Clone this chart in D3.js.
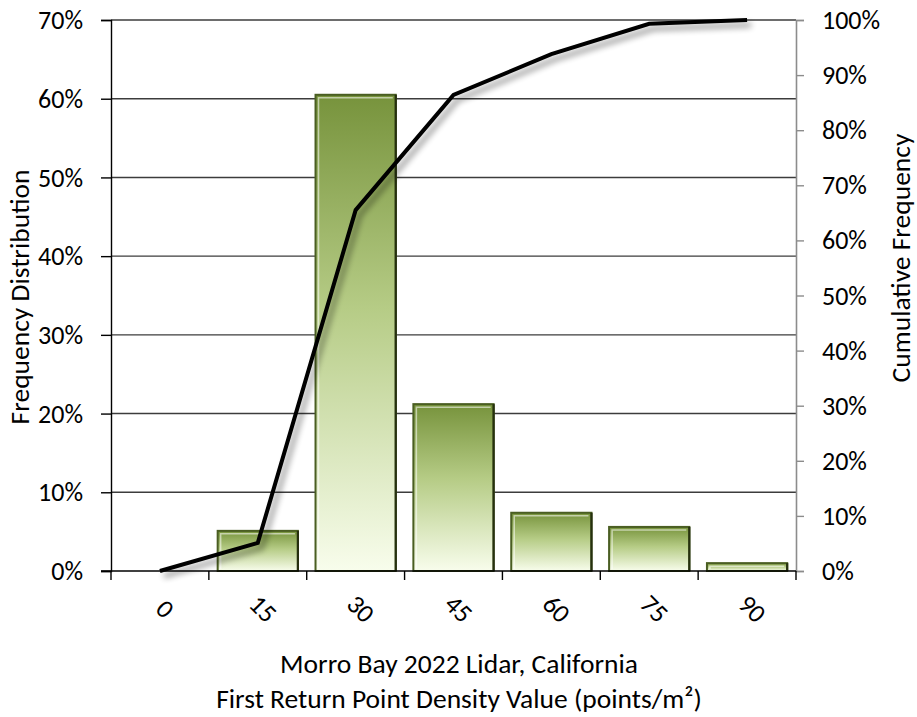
<!DOCTYPE html>
<html>
<head>
<meta charset="utf-8">
<script src="https://cdn.jsdelivr.net/npm/d3@7/dist/d3.min.js"></script>
<style>
  html, body { margin: 0; padding: 0; background: #fff; }
  svg { display: block; }
  text { font-family: Carlito, Calibri, "Open Sans", sans-serif; fill: #000; }
</style>
</head>
<body>
<svg id="chart" width="917" height="717"></svg>
<script>
// Point density bins (points/m²)
const categories = ["0", "15", "30", "45", "60", "75", "90"];
// Share of cells in each bin (%)
const frequency = [0, 5.1, 60.5, 21.2, 7.4, 5.6, 1.0];
// Running total of the share (%)
const cumulative = [0, 5.1, 65.5, 86.4, 93.8, 99.3, 100];
// Axis tick values (%)
const leftTicks = [0, 10, 20, 30, 40, 50, 60, 70];
const rightTicks = [0, 10, 20, 30, 40, 50, 60, 70, 80, 90, 100];
const titleLines = ["Morro Bay 2022 Lidar, California", "First Return Point Density Value (points/m²)"];

const svg = d3.select("#chart");
const m = { left: 111, right: 796, top: 20, bottom: 571 };
const FS = 26;      // tick labels
const TFS = 27.5;   // axis titles

const x = d3.scaleBand().domain(categories).range([m.left, m.right])
  .paddingInner(0.18).paddingOuter(0.09);
const yL = d3.scaleLinear().domain([0, 70]).range([m.bottom, m.top]);
const yR = d3.scaleLinear().domain([0, 100]).range([m.bottom, m.top]);

const defs = svg.append("defs");
const grad = defs.append("linearGradient").attr("id", "barFill")
  .attr("x1", 0).attr("y1", 0).attr("x2", 0).attr("y2", 1);
grad.append("stop").attr("offset", "0%").attr("stop-color", "#77933c");
grad.append("stop").attr("offset", "45%").attr("stop-color", "#b6cc86");
grad.append("stop").attr("offset", "100%").attr("stop-color", "#f8fdec");

const shadow = defs.append("filter").attr("id", "lineShadow")
  .attr("x", "-10%").attr("y", "-10%").attr("width", "130%").attr("height", "130%");
shadow.append("feGaussianBlur").attr("in", "SourceAlpha").attr("stdDeviation", 3).attr("result", "b");
shadow.append("feOffset").attr("in", "b").attr("dx", 4).attr("dy", 5).attr("result", "o");
shadow.append("feComponentTransfer").attr("in", "o").attr("result", "s")
  .append("feFuncA").attr("type", "linear").attr("slope", 0.45);
const merge = shadow.append("feMerge");
merge.append("feMergeNode").attr("in", "s");
merge.append("feMergeNode").attr("in", "SourceGraphic");

// Horizontal gridlines
svg.append("g").selectAll("line").data(leftTicks.slice(1)).join("line")
  .attr("x1", m.left).attr("x2", m.right)
  .attr("y1", d => yL(d)).attr("y2", d => yL(d))
  .attr("stroke", "#3c3c3c").attr("stroke-width", 1.4);

// Left axis
const axL = svg.append("g").attr("transform", `translate(${m.left},0)`)
  .call(d3.axisLeft(yL).tickValues(leftTicks).tickSize(10).tickPadding(18).tickFormat(d => d + "%"));
axL.select(".domain").attr("stroke", "#000").attr("stroke-width", 1.4);
axL.selectAll(".tick line").attr("stroke", "#000").attr("stroke-width", 1.4);
axL.selectAll("text").attr("font-size", FS).attr("font-family", null).attr("dy", "0.33em");

// Right axis
const axR = svg.append("g").attr("transform", `translate(${m.right},0)`)
  .call(d3.axisRight(yR).tickValues(rightTicks).tickSize(8).tickPadding(18).tickFormat(d => d + "%"));
axR.select(".domain").attr("stroke", "#8c8c8c").attr("stroke-width", 1.6);
axR.selectAll(".tick line").attr("stroke", "#8c8c8c").attr("stroke-width", 1.4);
axR.selectAll("text").attr("font-size", FS).attr("font-family", null).attr("dy", "0.33em");

// Bars
const bars = svg.append("g").selectAll("g").data(categories.map((c, i) => ({ c, v: frequency[i] })))
  .join("g").filter(d => d.v > 0);
bars.append("rect")
  .attr("x", d => x(d.c)).attr("y", d => yL(d.v))
  .attr("width", x.bandwidth()).attr("height", d => yL(0) - yL(d.v))
  .attr("fill", "url(#barFill)").attr("stroke", "#4a5e22").attr("stroke-width", 2);
// bevel highlight on top/left
bars.append("path")
  .attr("d", d => {
    const x0 = x(d.c) + 3, y0 = yL(d.v) + 3, x1 = x(d.c) + x.bandwidth() - 3, y1 = yL(0) - 2;
    return `M${x0},${y1}V${y0}H${x1}`;
  })
  .attr("fill", "none").attr("stroke", "rgba(255,255,255,0.55)").attr("stroke-width", 1.5);
// darker edge on right
bars.append("line")
  .attr("x1", d => x(d.c) + x.bandwidth()).attr("x2", d => x(d.c) + x.bandwidth())
  .attr("y1", d => yL(d.v)).attr("y2", yL(0))
  .attr("stroke", "#26300f").attr("stroke-width", 2.2);

// Bottom axis line and boundary ticks
svg.append("line").attr("x1", m.left - 10).attr("x2", m.right).attr("y1", m.bottom).attr("y2", m.bottom)
  .attr("stroke", "#000").attr("stroke-width", 1.4);
svg.append("g").selectAll("line").data(d3.range(categories.length + 1)).join("line")
  .attr("x1", i => x.range()[0] + i * x.step()).attr("x2", i => x.range()[0] + i * x.step())
  .attr("y1", m.bottom).attr("y2", m.bottom + 9)
  .attr("stroke", "#000").attr("stroke-width", 1.4);

// Category labels, rotated
svg.append("g").selectAll("text").data(categories).join("text")
  .attr("transform", d => `translate(${x(d) + x.bandwidth() / 2 + 5},${m.bottom + 38}) rotate(45)`)
  .attr("text-anchor", "middle").attr("dy", "0.33em").attr("font-size", FS).text(d => d);

// Cumulative line
const line = d3.line()
  .x((d, i) => x(categories[i]) + x.bandwidth() / 2)
  .y(d => yR(d));
svg.append("path").datum(cumulative).attr("d", line)
  .attr("fill", "none").attr("stroke", "#000").attr("stroke-width", 4)
  .attr("stroke-linejoin", "miter").attr("filter", "url(#lineShadow)");

// Axis titles
svg.append("text").attr("transform", `translate(29,297) rotate(-90)`)
  .attr("text-anchor", "middle").attr("font-size", TFS).text("Frequency Distribution");
svg.append("text").attr("transform", `translate(910,258) rotate(-90)`)
  .attr("text-anchor", "middle").attr("font-size", TFS).text("Cumulative Frequency");
svg.append("g").selectAll("text").data(titleLines).join("text")
  .attr("x", 459).attr("y", (d, i) => 673 + i * 35)
  .attr("text-anchor", "middle").attr("font-size", TFS).text(d => d);
</script>
</body>
</html>
